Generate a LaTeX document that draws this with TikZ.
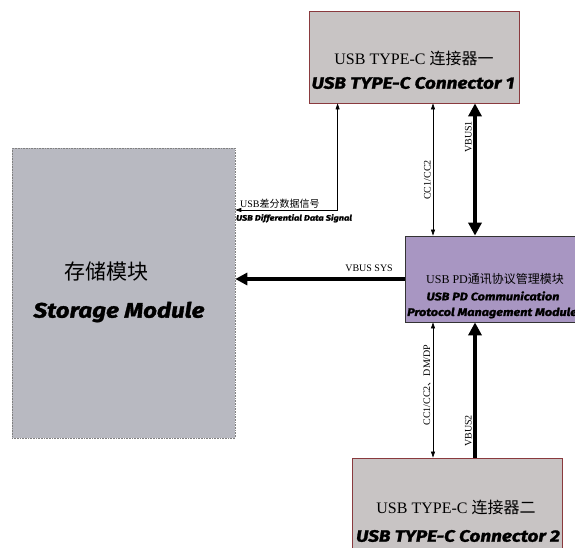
\documentclass[tikz,border=0pt]{standalone}
\usepackage{fontspec}
\setmainfont{Liberation Serif}
\newfontfamily\cjk{Noto Sans CJK SC}
\newfontfamily\heavy[FakeBold=1.5, FakeStretch=1.15]{Fira Sans}
\usetikzlibrary{arrows.meta}

\definecolor{conred}{HTML}{8A3A3E}
\definecolor{congray}{HTML}{C8C4C4}
\definecolor{storegray}{HTML}{B8B9C1}
\definecolor{pdpurple}{HTML}{A896C2}

\newcommand{\en}{\heavy\bfseries\itshape}

\begin{document}
\begin{tikzpicture}[x=1pt, y=-1pt,
  every node/.style={inner sep=0pt},
  conbox/.style={draw=conred, line width=0.8pt, fill=congray, minimum width=210pt},
  smallhead/.tip={Triangle[length=6pt,width=4pt]},
  bighead/.tip={Triangle[length=13pt,width=13pt]},
  sig/.style={line width=0.7pt, smallhead-smallhead},
  power/.style={line width=4pt}]

% frame of the picture
\useasboundingbox (0,0) rectangle (575,548);
\clip (0,0) rectangle (575,548);

% boxes
\node[conbox, minimum height=92pt] (conn1) at (414,57) {};
\node[draw=gray, densely dotted, line width=0.6pt, fill=storegray, minimum width=223pt, minimum height=290pt] (store) at (123.5,293) {};
\node[draw=black!80, line width=0.8pt, fill=pdpurple, minimum width=184pt, minimum height=86pt] (pd) at (497,279) {};
\node[conbox, minimum height=100pt] (conn2) at (457,508) {};

% box texts
\node (conn1cn) at (414,58) {\fontsize{16}{18}\selectfont USB TYPE-C {\cjk 连接器一}};
\node (conn1en) at (413,83) {\fontsize{16.5}{18}\selectfont\en USB TYPE-C Connector 1};
\node (storecn) at (106,272) {\fontsize{21}{24}\selectfont\cjk 存储模块};
\node (storeen) at (119,312) {\fontsize{21}{24}\selectfont\en Storage Module};
\node (pdcn) at (495,279) {\fontsize{12}{14}\selectfont USB PD{\cjk 通讯协议管理模块}};
\node (pden1) at (493,296) {\fontsize{11}{13}\selectfont\en USB PD Communication};
\node[anchor=west] (pden2) at (407,313) {\fontsize{11}{13}\selectfont\en Protocol Management Module};
\node (conn2cn) at (456,507) {\fontsize{16}{18}\selectfont USB TYPE-C {\cjk 连接器二}};
\node (conn2en) at (458,536) {\fontsize{16.5}{18}\selectfont\en USB TYPE-C Connector 2};

% line positions
\coordinate (ccx) at (433,0);
\coordinate (vbx) at (475,0);

% connectors
\draw[sig] ([yshift=83pt]store.east) -| ([xshift=29pt]conn1.south west);
\draw[sig] (conn1.south -| ccx) -- (pd.north -| ccx);
\draw[power, bighead-bighead] (conn1.south -| vbx) -- (pd.north -| vbx);
\draw[power, -{Triangle[length=12pt,width=12pt]}] (pd.west) -- (pd.west -| store.east);
\draw[sig] (pd.south -| ccx) -- (conn2.north -| ccx);
\draw[power, -bighead] (conn2.north -| vbx) -- (pd.south -| vbx);

% connector labels
\node[anchor=south west] (difcn) at (240,209) {\fontsize{10}{12}\selectfont USB{\cjk 差分数据信号}};
\node[anchor=north west] (difen) at (236,214) {\fontsize{8}{9}\selectfont\en USB Differential Data Signal};
\node[anchor=south east] (sys) at (393,272) {\fontsize{10}{12}\selectfont VBUS SYS};
\node[rotate=90, anchor=south] (cc1) at (431,180) {\fontsize{10}{12}\selectfont CC1/CC2};
\node[rotate=90, anchor=south] (vb1) at (472,137) {\fontsize{10}{12}\selectfont VBUS1};
\node[rotate=90, anchor=south] (cc2) at (431,385) {\fontsize{10}{12}\selectfont CC1/CC2{\cjk 、}DM/DP};
\node[rotate=90, anchor=south] (vb2) at (472,431) {\fontsize{10}{12}\selectfont VBUS2};

\end{tikzpicture}
\end{document}
